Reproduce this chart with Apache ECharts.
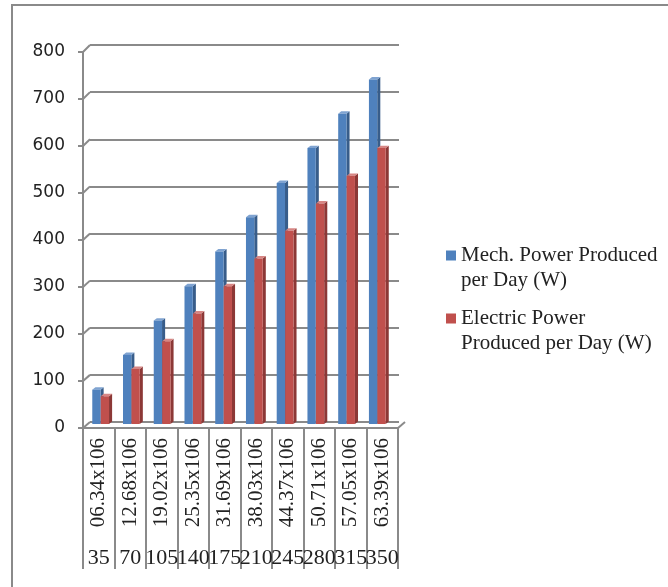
<!DOCTYPE html>
<html>
<head>
<meta charset="utf-8">
<script src="https://cdn.jsdelivr.net/npm/echarts@6/dist/echarts.min.js"></script>
<style>
  html, body { margin: 0; padding: 0; background: #fff; }
  #wrap { position: relative; width: 668px; height: 587px; }
  #chart { position: absolute; left: 0; top: 0; width: 668px; height: 587px; }
  #frame { position: absolute; left: 11px; top: 4px; width: 700px; height: 700px;
           border-left: 2px solid #8a8a8a; border-top: 2px solid #8a8a8a; pointer-events: none; }
</style>
</head>
<body>
<div id="wrap">
  <div id="chart"></div>
  <div id="frame"></div>
</div>
<script>
// Flow-rate labels (two header rows under the plot)
const flowLabels = ['06.34x106', '12.68x106', '19.02x106', '25.35x106', '31.69x106',
                    '38.03x106', '44.37x106', '50.71x106', '57.05x106', '63.39x106'];
const headLabels = ['35', '70', '105', '140', '175', '210', '245', '280', '315', '350'];

// Power produced per day (W)
const mechPower = [73, 147, 220, 293, 367, 440, 513, 587, 660, 733];
const elecPower = [59, 117, 176, 235, 293, 352, 411, 469, 528, 587];

const seriesNames = ['Mech. Power Produced\nper Day (W)', 'Electric Power\nProduced per Day (W)'];
const yTicks = [0, 100, 200, 300, 400, 500, 600, 700, 800];

const W = 668, H = 587;
const grey = '#8a8a8a';
const serif = '"Liberation Serif", "Times New Roman", serif';
const sans = '"DejaVu Sans", Verdana, sans-serif';

// three planes of the pseudo-3D box: back wall, front edge, and the bar plane between
const backGrid  = { left: 90, right: W - 399, top: 45, bottom: H - 422 };
const frontGrid = { left: 83, right: W - 398, top: 52, bottom: H - 428 };
const barGrid   = { left: 87.2, right: 273.4, top: 48, bottom: H - 424 };

const palettes = [
  { front: '#4F81BD', side: '#385D8A', top: '#7FA3D1' },
  { front: '#C0504D', side: '#8C3836', top: '#D78684' }
];

// legend swatch: a square in the top of a tall box so it sits beside the first text line
const legendIcon = 'path://M0,0h10v10h-10zM0,35h0.01v0.01h-0.01z';

function makeBarRenderer(k) {
  return function (params, api) {
    const idx = api.value(0), v = api.value(1);
    const top = api.coord([idx, v]);
    const base = api.coord([idx, 0]);
    const bw = api.size([1, 0])[0];
    const w = bw * 0.27;
    const x0 = top[0] + (k === 0 ? -0.335 : -0.06) * bw;
    const x1 = x0 + w;
    const d = bw * 0.1, dy = d * 0.8;
    const yT = top[1], yB = base[1];
    const pal = palettes[k];
    return {
      type: 'group',
      children: [
        { type: 'polygon', shape: { points: [[x1, yT], [x1 + d, yT - dy], [x1 + d, yB - dy], [x1, yB]] },
          style: { fill: pal.side } },
        { type: 'polygon', shape: { points: [[x0, yT], [x0 + d, yT - dy], [x1 + d, yT - dy], [x1, yT]] },
          style: { fill: pal.top } },
        { type: 'rect', shape: { x: x0, y: yT, width: w, height: yB - yT },
          style: { fill: pal.front } }
      ]
    };
  };
}

const chart = echarts.init(document.getElementById('chart'), null, { renderer: 'canvas' });

const option = {
  animation: false,
  backgroundColor: '#fff',
  color: [palettes[0].front, palettes[1].front],
  grid: [
    Object.assign({}, backGrid),
    Object.assign({}, frontGrid),
    Object.assign({}, barGrid)
  ],
  xAxis: [
    { type: 'category', gridIndex: 0, data: flowLabels, show: false },
    { type: 'category', gridIndex: 1, data: flowLabels, position: 'bottom',
      axisLine: { show: true, lineStyle: { color: grey, width: 2 } },
      axisTick: { show: true, interval: 0, length: 141, lineStyle: { color: grey, width: 2 } },
      axisLabel: { interval: 0, rotate: 90, margin: 10, color: '#222',
                   fontFamily: serif, fontSize: 21 } },
    { type: 'category', gridIndex: 1, data: headLabels, position: 'bottom',
      axisLine: { show: false }, axisTick: { show: false },
      axisLabel: { interval: 0, margin: 119, color: '#222', fontFamily: serif, fontSize: 22 } },
    { type: 'category', gridIndex: 2, data: flowLabels, show: false }
  ],
  yAxis: [
    { type: 'value', gridIndex: 0, min: 0, max: 800, interval: 100,
      axisLine: { show: false }, axisTick: { show: false }, axisLabel: { show: false },
      splitLine: { show: true, lineStyle: { color: grey, width: 2 } } },
    { type: 'value', gridIndex: 1, min: 0, max: 800, interval: 100,
      axisLine: { show: true, lineStyle: { color: grey, width: 2 } },
      axisTick: { show: true, length: 5, lineStyle: { color: grey, width: 2 } },
      axisLabel: { margin: 18, color: '#222', fontFamily: sans, fontSize: 17 },
      splitLine: { show: false } },
    { type: 'value', gridIndex: 2, min: 0, max: 800, interval: 100, show: false,
      splitLine: { show: false } }
  ],
  legend: {
    orient: 'vertical',
    left: 441, top: 238,
    itemWidth: 10, itemHeight: 35, itemGap: 13,
    icon: legendIcon,
    data: seriesNames,
    textStyle: { fontFamily: serif, fontSize: 21, color: '#222', lineHeight: 25 }
  },
  series: [
    { name: seriesNames[0], type: 'custom', xAxisIndex: 3, yAxisIndex: 2,
      renderItem: makeBarRenderer(0), encode: { x: 0, y: 1 },
      data: mechPower.map((v, i) => [i, v]) },
    { name: seriesNames[1], type: 'custom', xAxisIndex: 3, yAxisIndex: 2,
      renderItem: makeBarRenderer(1), encode: { x: 0, y: 1 },
      data: elecPower.map((v, i) => [i, v]) }
  ]
};
chart.setOption(option);

// depth connectors: front tick on the left edge to the matching back-wall gridline,
// and the floor's right-hand corner
const connectors = yTicks.map(t => {
  const yf = chart.convertToPixel({ yAxisIndex: 1 }, t);
  const yb = chart.convertToPixel({ yAxisIndex: 0 }, t);
  return { type: 'line', silent: true,
           shape: { x1: frontGrid.left, y1: yf, x2: backGrid.left, y2: yb },
           style: { stroke: grey, lineWidth: 2 } };
});
const yf0 = chart.convertToPixel({ yAxisIndex: 1 }, 0);
const yb0 = chart.convertToPixel({ yAxisIndex: 0 }, 0);
connectors.push({ type: 'line', silent: true,
  shape: { x1: W - frontGrid.right, y1: yf0, x2: W - backGrid.right + 6, y2: yb0 },
  style: { stroke: grey, lineWidth: 2 } });
chart.setOption({ graphic: connectors });
</script>
</body>
</html>
